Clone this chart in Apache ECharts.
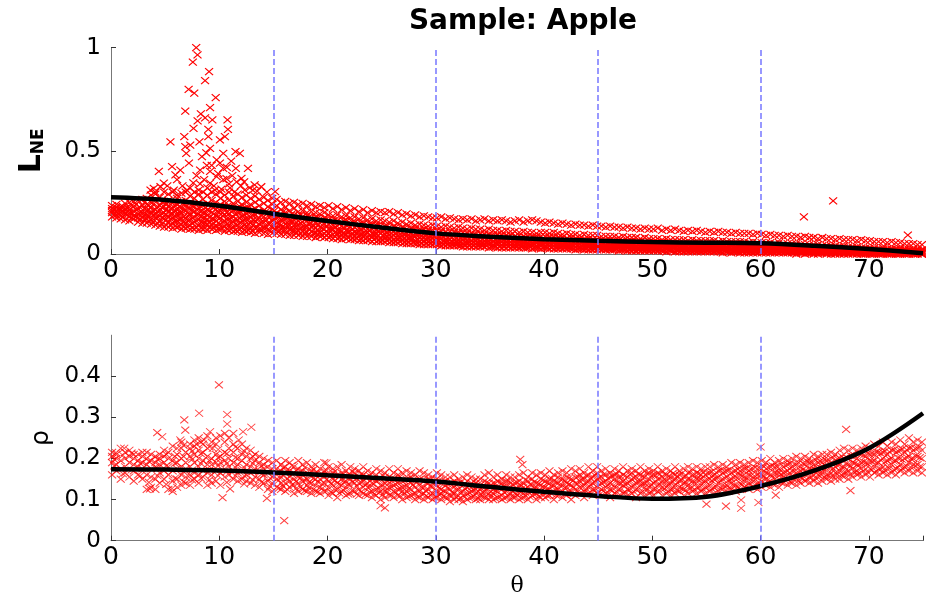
<!DOCTYPE html>
<html>
<head>
<meta charset="utf-8">
<script src="https://cdn.jsdelivr.net/npm/echarts@6/dist/echarts.min.js"></script>
<style>html,body{margin:0;padding:0;background:#fff;}#c{width:926px;height:599px;}</style>
</head>
<body>
<div id="c"></div>
<script>
const titleText = 'Sample: Apple';
const xTicks = [0, 10, 20, 30, 40, 50, 60, 70];
const dividers = [15, 30, 45, 60];
const fitTheta = [0, 5, 10, 15, 20, 25, 30, 35, 40, 45, 50, 55, 60, 65, 70, 75];
const lneFit = [0.275, 0.262, 0.234, 0.195, 0.160, 0.128, 0.100, 0.084, 0.072, 0.064, 0.058, 0.055, 0.052, 0.040, 0.024, 0.004];
const rhoFit = [0.174, 0.173, 0.171, 0.166, 0.159, 0.152, 0.144, 0.131, 0.119, 0.109, 0.102, 0.107, 0.133, 0.171, 0.225, 0.310];

// L_NE samples: each row = [theta, value, value, ...]
const lneRows = [
[0.1,.18,.20,.21,.22,.235],[0.5,.175,.19,.205,.225,.24],[0.9,.17,.185,.20,.215,.23],[1.3,.165,.195,.21,.22,.245],
[1.7,.16,.18,.20,.215,.25],[2.1,.17,.185,.205,.23,.255],[2.5,.155,.175,.195,.22,.26],[2.9,.15,.18,.20,.235,.265],
[3.3,.15,.17,.19,.21,.24,.27],[3.7,.145,.165,.20,.225,.25,.285],[4.1,.14,.175,.195,.215,.26,.29],[4.5,.135,.16,.185,.21,.235,.275],
[4.9,.13,.17,.20,.23,.255,.30],[5.3,.13,.155,.18,.205,.23,.26,.29],[5.7,.125,.15,.175,.195,.22,.25,.30],[6.1,.13,.16,.19,.215,.24,.27,.285],
[6.5,.12,.145,.17,.20,.225,.255,.295],[6.9,.125,.15,.175,.21,.235,.26,.30],[7.3,.12,.14,.165,.19,.22,.245,.28],[7.7,.12,.155,.18,.205,.23,.27,.30],
[8.1,.115,.14,.17,.195,.225,.25,.29],[8.5,.12,.15,.175,.20,.235,.265,.30],[8.9,.115,.145,.165,.19,.215,.245,.285],[9.3,.12,.14,.17,.20,.23,.26,.30],
[9.7,.115,.135,.16,.185,.215,.25,.29],[10.1,.12,.145,.175,.21,.24,.27,.30],[10.5,.11,.135,.16,.19,.22,.255,.285],[10.9,.115,.14,.17,.195,.23,.26,.30],
[11.3,.11,.13,.155,.18,.21,.245,.28],[11.7,.11,.14,.165,.20,.225,.255,.29],[12.1,.105,.13,.16,.185,.215,.24,.275],[12.5,.11,.135,.17,.195,.22,.25,.285],
[12.9,.105,.125,.15,.18,.21,.24,.27],[13.3,.10,.13,.16,.19,.22,.25,.28],[13.7,.105,.12,.145,.175,.205,.235,.265],[14.1,.10,.125,.155,.18,.21,.245,.275],
[14.5,.095,.12,.15,.185,.20,.23,.26],[14.9,.10,.13,.16,.19,.215,.24,.27],
[15.3,.10,.125,.15,.175,.20,.235,.265],[15.7,.095,.12,.14,.165,.19,.215,.25],[16.1,.095,.115,.145,.17,.20,.225,.255],[16.5,.09,.12,.14,.16,.185,.21,.245],
[16.9,.09,.11,.135,.165,.19,.22,.25],[17.3,.09,.115,.14,.16,.185,.205,.24],[17.7,.085,.11,.13,.155,.18,.21,.245],[18.1,.085,.105,.135,.16,.185,.20,.235],
[18.5,.085,.11,.13,.15,.175,.205,.24],[18.9,.08,.10,.125,.155,.18,.20,.23],[19.3,.085,.105,.13,.15,.17,.195,.235],[19.7,.08,.10,.12,.145,.175,.20,.225],
[20.1,.08,.10,.12,.145,.165,.19,.235],[20.5,.075,.095,.12,.14,.16,.185,.22],[20.9,.075,.10,.115,.135,.16,.19,.23],[21.3,.07,.09,.11,.135,.155,.18,.215],
[21.7,.075,.095,.115,.14,.165,.185,.225],[22.1,.07,.09,.11,.13,.15,.175,.21],[22.5,.07,.085,.105,.13,.155,.18,.22],[22.9,.065,.09,.11,.125,.145,.17,.205],
[23.3,.065,.085,.10,.125,.15,.175,.215],[23.7,.065,.08,.105,.12,.14,.165,.20],[24.1,.06,.085,.10,.12,.145,.17,.21],[24.5,.06,.08,.095,.115,.14,.16,.20],
[24.9,.06,.075,.10,.12,.135,.165,.205],[25.3,.06,.08,.095,.115,.135,.16,.20],[25.7,.055,.075,.09,.11,.13,.155,.205],[26.1,.055,.07,.09,.11,.135,.16,.195],
[26.5,.055,.075,.085,.105,.125,.15,.20],[26.9,.05,.07,.09,.105,.13,.155,.19],[27.3,.05,.065,.085,.10,.12,.145,.195],[27.7,.05,.07,.08,.10,.125,.15,.185],
[28.1,.05,.065,.085,.10,.12,.14,.19],[28.5,.045,.06,.08,.095,.115,.145,.18],[28.9,.045,.065,.08,.10,.12,.14,.185],[29.3,.045,.06,.075,.095,.115,.135,.18],
[29.7,.045,.06,.08,.09,.11,.14,.175],[30.1,.045,.06,.075,.095,.115,.135,.175],[30.5,.04,.055,.075,.09,.11,.13,.18],[30.9,.04,.06,.07,.09,.105,.135,.17],
[31.3,.04,.055,.07,.085,.11,.13,.175],[31.7,.04,.05,.07,.09,.105,.125,.17],[32.1,.04,.055,.065,.085,.10,.13,.165],[32.5,.035,.05,.07,.085,.105,.125,.17],
[32.9,.035,.055,.065,.08,.10,.12,.165],[33.3,.035,.05,.065,.085,.10,.125,.17],[33.7,.035,.05,.065,.08,.095,.12,.16],[34.1,.035,.045,.06,.08,.10,.12,.165],
[34.5,.035,.05,.065,.08,.095,.115,.17],[34.9,.03,.05,.06,.075,.095,.12,.16],[35.3,.035,.045,.06,.08,.09,.115,.165],[35.7,.03,.05,.06,.075,.095,.115,.16],
[36.1,.03,.045,.06,.075,.09,.11,.165],[36.5,.03,.045,.055,.07,.09,.115,.16],[36.9,.03,.045,.06,.075,.09,.11,.155],[37.3,.03,.04,.055,.07,.085,.11,.16],
[37.7,.03,.045,.06,.07,.09,.105,.165],[38.1,.03,.04,.055,.07,.085,.11,.155],[38.5,.03,.045,.055,.07,.085,.105,.16],[38.9,.025,.04,.055,.065,.085,.105,.165],
[39.3,.03,.04,.055,.07,.08,.10,.16],[39.7,.025,.04,.05,.065,.085,.105,.155],[40.1,.03,.04,.055,.07,.085,.105,.15],[40.5,.025,.04,.05,.065,.08,.10,.155],
[40.9,.025,.04,.055,.065,.085,.105,.15],[41.3,.025,.035,.05,.065,.08,.10,.145],[41.7,.025,.04,.05,.06,.08,.095,.15],[42.1,.025,.035,.05,.065,.075,.10,.145],
[42.5,.025,.035,.045,.06,.08,.095,.14],[42.9,.02,.035,.05,.06,.075,.095,.145],[43.3,.025,.035,.045,.06,.075,.09,.14],[43.7,.02,.03,.045,.06,.07,.095,.14],
[44.1,.02,.035,.045,.055,.075,.09,.135],[44.5,.02,.03,.045,.06,.07,.09,.14],[44.9,.02,.035,.045,.055,.07,.09,.135],[45.3,.02,.03,.04,.055,.07,.085,.135],
[45.7,.02,.03,.045,.055,.065,.085,.13],[46.1,.02,.03,.04,.055,.07,.085,.135],[46.5,.02,.03,.04,.05,.065,.085,.13],[46.9,.015,.03,.04,.055,.065,.08,.13],
[47.3,.02,.025,.04,.05,.065,.085,.125],[47.7,.015,.03,.04,.05,.06,.08,.13],[48.1,.015,.025,.04,.05,.065,.08,.125],[48.5,.015,.03,.035,.05,.06,.08,.125],
[48.9,.015,.025,.04,.05,.06,.075,.12],[49.3,.015,.025,.035,.045,.06,.08,.125],[49.7,.015,.025,.035,.05,.06,.075,.12],[50.1,.015,.025,.035,.045,.06,.075,.12],
[50.5,.015,.025,.035,.05,.055,.075,.125],[50.9,.015,.02,.035,.045,.06,.07,.115],[51.3,.01,.025,.035,.045,.055,.075,.12],[51.7,.015,.02,.03,.045,.055,.07,.115],
[52.1,.01,.025,.035,.045,.055,.07,.12],[52.5,.01,.02,.03,.045,.055,.07,.115],[52.9,.01,.025,.035,.04,.055,.07,.11],[53.3,.01,.02,.03,.045,.05,.065,.115],
[53.7,.01,.02,.035,.04,.055,.07,.11],[54.1,.01,.02,.03,.04,.055,.065,.115],[54.5,.01,.02,.03,.045,.05,.065,.11],[54.9,.01,.02,.03,.04,.05,.065,.105],
[55.3,.01,.02,.03,.04,.055,.065,.11],[55.7,.01,.015,.03,.04,.05,.065,.105],[56.1,.01,.02,.025,.04,.05,.06,.11],[56.5,.005,.02,.03,.04,.05,.065,.105],
[56.9,.01,.015,.03,.035,.05,.06,.105],[57.3,.005,.02,.025,.04,.05,.06,.10],[57.7,.01,.015,.025,.035,.05,.06,.105],[58.1,.005,.02,.03,.04,.045,.06,.10],
[58.5,.005,.015,.025,.035,.05,.06,.10],[58.9,.005,.015,.025,.035,.045,.055,.10],[59.3,.005,.015,.025,.035,.045,.06,.095],[59.7,.005,.015,.025,.035,.045,.055,.10],
[60.1,.005,.015,.025,.035,.045,.055,.095],[60.5,.005,.015,.025,.03,.045,.055,.09],[60.9,.005,.01,.02,.035,.04,.055,.095],[61.3,.005,.015,.02,.03,.045,.05,.09],
[61.7,.005,.01,.025,.03,.04,.055,.09],[62.1,.005,.015,.02,.03,.04,.05,.085],[62.5,.005,.01,.02,.03,.04,.05,.09],[62.9,.005,.01,.02,.025,.035,.05,.085],
[63.3,.0,.01,.02,.03,.04,.05,.085],[63.7,.005,.01,.015,.025,.035,.045,.08],[64.1,.0,.01,.02,.03,.035,.045,.085],[64.5,.005,.01,.015,.025,.035,.045,.08],
[64.9,.0,.01,.02,.025,.035,.045,.08],[65.3,.0,.01,.015,.025,.03,.045,.075],[65.7,.005,.01,.015,.02,.03,.04,.08],[66.1,.0,.005,.015,.025,.03,.04,.075],
[66.5,.0,.01,.015,.02,.03,.04,.075],[66.9,.0,.005,.015,.02,.03,.04,.07],[67.3,.0,.01,.015,.02,.025,.035,.075],[67.7,.0,.005,.01,.02,.03,.04,.07],
[68.1,.0,.005,.015,.02,.025,.035,.07],[68.5,.0,.005,.01,.02,.025,.035,.07],[68.9,.0,.005,.01,.015,.025,.035,.065],[69.3,.0,.005,.01,.015,.025,.03,.07],
[69.7,.0,.005,.01,.015,.02,.03,.065],[70.1,.0,.005,.01,.015,.02,.03,.065],[70.5,.0,.005,.01,.015,.02,.03,.06],[70.9,.0,.005,.01,.015,.02,.025,.06],
[71.3,.0,.005,.01,.015,.02,.03,.06],[71.7,.0,.005,.01,.015,.02,.025,.055],[72.1,.0,.005,.01,.01,.02,.025,.06],[72.5,.0,.005,.01,.015,.02,.025,.055],
[72.9,.0,.005,.005,.01,.015,.025,.055],[73.3,.0,.005,.01,.015,.02,.025,.05],[73.7,.0,.005,.01,.01,.015,.02,.05],[74.1,.0,.005,.005,.01,.015,.025,.05],
[74.5,.0,.005,.01,.01,.015,.02,.045],[74.9,.0,.0,.005,.01,.015,.02,.045]
];
// L_NE samples in the dense core, between the rows above
const lneCoreRows = [
[0.3,.19,.215],[0.7,.195,.22],[1.1,.18,.21,.23],[1.5,.19,.225],[1.9,.175,.20,.235],[2.3,.18,.215,.24],[2.7,.17,.20,.225],
[3.1,.165,.19,.22,.25],[3.5,.16,.185,.215,.235],[3.9,.155,.19,.21,.24],[4.3,.15,.18,.205,.23],[4.7,.145,.175,.195,.225,.25],
[5.1,.14,.165,.19,.215,.245],[5.5,.14,.17,.195,.22,.24],[5.9,.135,.16,.185,.21,.235],[6.3,.135,.165,.19,.205,.23],
[6.7,.13,.155,.18,.215,.24],[7.1,.13,.16,.185,.20,.225],[7.5,.125,.15,.175,.21,.235],[7.9,.13,.16,.19,.215,.24],
[8.3,.125,.155,.18,.205,.23],[8.7,.125,.15,.175,.20,.225],[9.1,.13,.155,.18,.21,.24],[9.5,.125,.15,.17,.195,.225],
[9.9,.12,.15,.18,.205,.23],[10.3,.125,.155,.185,.20,.225],[10.7,.12,.145,.17,.20,.23],[11.1,.12,.15,.175,.205,.225],
[11.5,.115,.145,.17,.195,.22],[11.9,.12,.15,.175,.20,.23],[12.3,.115,.14,.165,.19,.22],[12.7,.115,.145,.17,.20,.225],
[13.1,.11,.14,.165,.19,.215],[13.5,.13,.165,.20],[13.9,.12,.155,.19],[14.3,.125,.16,.205],[14.7,.115,.15,.185],
[15.1,.12,.14,.175,.21],[15.5,.11,.145,.18],[15.9,.115,.135,.17,.205],[16.3,.105,.14,.175],[16.7,.11,.13,.16,.195],
[17.1,.105,.135,.17],[17.5,.10,.125,.15,.19],[17.9,.10,.13,.165],[18.3,.095,.12,.145,.18],[18.7,.10,.135,.165],
[19.1,.095,.115,.14,.175],[19.5,.09,.125,.16],[19.9,.09,.11,.135,.17],[20.3,.085,.12,.15],[20.7,.085,.105,.13,.165],
[21.1,.08,.115,.145],[21.5,.085,.10,.125,.16],[21.9,.08,.11,.14],[22.3,.075,.10,.12,.155],[22.7,.075,.105,.135],
[23.1,.07,.095,.12,.15],[23.5,.075,.10,.13],[23.9,.07,.09,.115,.145],[24.3,.07,.095,.125],[24.7,.065,.09,.11,.14],
[25.1,.065,.09,.12],[25.5,.065,.085,.105,.135],[25.9,.06,.085,.115],[26.3,.06,.08,.10,.13],[26.7,.06,.08,.11],
[27.1,.055,.075,.095,.125],[27.5,.055,.08,.105],[27.9,.055,.075,.09,.12],[28.3,.05,.07,.10],[28.7,.05,.07,.085,.115],
[29.1,.05,.07,.095],[29.5,.05,.065,.085,.11],[29.9,.05,.065,.09],[30.3,.045,.065,.08,.105],[30.7,.045,.06,.085],
[31.1,.045,.06,.08,.10],[31.5,.045,.06,.08],[31.9,.045,.055,.075,.10],[32.3,.04,.06,.08],[32.7,.04,.055,.075,.095],
[33.1,.04,.055,.075],[33.5,.04,.055,.07,.095],[33.9,.04,.055,.075],[34.3,.04,.05,.07,.09],[34.7,.04,.055,.07],
[35.1,.035,.05,.07,.09],[35.5,.035,.055,.07],[35.9,.035,.05,.065,.085],[36.3,.035,.05,.07],[36.7,.035,.05,.065,.085],
[37.1,.035,.05,.065],[37.5,.035,.05,.065,.08],[37.9,.035,.045,.065],[38.3,.03,.05,.06,.08],[38.7,.035,.045,.065],
[39.1,.03,.045,.06,.08],[39.5,.03,.05,.065],[39.9,.03,.045,.06,.075],[40.3,.03,.045,.06],[40.7,.03,.045,.06,.075],
[41.1,.03,.045,.06],[41.5,.03,.04,.055,.075],[41.9,.03,.045,.06],[42.3,.03,.04,.055,.07],[42.7,.025,.04,.055],
[43.1,.025,.04,.055,.07],[43.5,.025,.04,.055],[43.9,.025,.04,.05,.07],[44.3,.025,.04,.055],[44.7,.025,.035,.05,.065],
[45.1,.025,.04,.05],[45.5,.025,.035,.05,.065],[45.9,.025,.035,.05],[46.3,.02,.035,.05,.065],[46.7,.025,.035,.045],
[47.1,.02,.035,.045,.06],[47.5,.02,.035,.05],[47.9,.02,.035,.045,.06],[48.3,.02,.03,.045],[48.7,.02,.03,.045,.06],
[49.1,.02,.035,.045],[49.5,.02,.03,.04,.055],[49.9,.02,.03,.045],[50.3,.02,.03,.04,.055],[50.7,.02,.03,.045],
[51.1,.015,.03,.04,.055],[51.5,.02,.03,.04],[51.9,.015,.03,.04,.05],[52.3,.015,.025,.04],[52.7,.015,.025,.04,.05],
[53.1,.015,.03,.04],[53.5,.015,.025,.035,.05],[53.9,.015,.025,.04],[54.3,.015,.025,.035,.05],[54.7,.015,.025,.035],
[55.1,.015,.025,.035,.045],[55.5,.015,.025,.035],[55.9,.015,.02,.035,.045],[56.3,.01,.025,.035],[56.7,.015,.02,.03,.045],
[57.1,.01,.025,.035],[57.5,.01,.02,.03,.045],[57.9,.01,.02,.035],[58.3,.01,.02,.03,.04],[58.7,.01,.02,.03],
[59.1,.01,.02,.03,.04],[59.5,.01,.02,.03],[59.9,.01,.02,.03,.04],[60.3,.01,.02,.03],[60.7,.01,.02,.03,.04],
[61.1,.01,.02,.03],[61.5,.01,.015,.025,.04],[61.9,.01,.02,.03],[62.3,.01,.015,.025,.035],[62.7,.01,.015,.025],
[63.1,.005,.015,.025,.035],[63.5,.01,.015,.025],[63.9,.005,.015,.025,.035],[64.3,.005,.015,.025],[64.7,.005,.015,.02,.03],
[65.1,.005,.015,.025],[65.5,.005,.01,.02,.03],[65.9,.005,.01,.02],[66.3,.005,.01,.02,.03],[66.7,.005,.01,.02],
[67.1,.005,.01,.02,.03],[67.5,.005,.01,.02],[67.9,.005,.01,.015,.025],[68.3,.005,.01,.02],[68.7,.005,.01,.015,.025],
[69.1,.005,.01,.015],[69.5,.0,.01,.015,.025],[69.9,.005,.01,.015],[70.3,.0,.005,.015,.02],[70.7,.005,.01,.015],
[71.1,.0,.005,.015,.02],[71.5,.005,.01,.015],[71.9,.0,.005,.01,.02],[72.3,.005,.01,.015],[72.7,.0,.005,.01,.02],
[73.1,.005,.01,.015],[73.5,.0,.005,.01,.015],[73.9,.005,.01,.015],[74.3,.0,.005,.01,.015],[74.7,.005,.01,.015]
];
// L_NE scattered points above the band: [theta, value]
const lneSpread = [
[7.87,1.0],[7.99,.965],[7.56,.93],[9.06,.884],[8.69,.84],[7.17,.798],[7.69,.78],[9.67,.758],[9.15,.71],[6.86,.693],
[8.3,.679],[10.76,.65],[9.36,.65],[8.69,.66],[8.0,.645],[7.62,.609],[8.99,.604],[10.8,.604],[5.49,.544],[8.17,.544],
[8.99,.569],[10.06,.553],[10.52,.569],[6.77,.569],[7.32,.528],[6.86,.52],[6.95,.488],[9.15,.512],[10.37,.488],[11.5,.496],
[11.9,.488],[8.4,.472],[8.85,.43],[9.76,.456],[10.06,.44],[4.42,.40],[5.64,.423],[6.4,.407],[5.95,.383],[8.23,.407],
[9.15,.40],[10.37,.415],[11.53,.415],[12.65,.415],[9.76,.375],[10.67,.365],[12.05,.367],[4.88,.343],[4.57,.326],[8.23,.34],
[9.15,.343],[10.37,.36],[12.35,.31],[13.27,.335],[13.88,.326],[15.16,.302],[3.95,.318],[3.65,.31],[7.3,.32],[7.0,.31],
[11.0,.32],[11.6,.35],[5.2,.33],[6.1,.36],[7.9,.38],[8.6,.36],[9.5,.33],[10.9,.34],[12.3,.35],[13.1,.31],
[9.9,.39],[11.2,.38],[5.8,.31],[14.4,.30],[8.1,.31],[9.6,.31],[12.8,.32],[4.1,.30],[6.6,.33],[7.6,.345],
[8.9,.32],[10.2,.315],[11.4,.30],[12.0,.33],[13.5,.305],[9.3,.43],[10.7,.42],[7.2,.44],[8.8,.49],[11.1,.45],
[64.0,.18],[66.7,.257],[73.6,.092]
];

// rho samples: each row = [theta, value, value, ...]
const rhoRows = [
[0.1,.16,.19,.205,.215],[0.5,.17,.185,.20,.21],[0.9,.15,.175,.195,.225],[1.3,.165,.18,.20,.215],[1.7,.155,.19,.205,.22],
[2.1,.145,.17,.185,.20,.21],[2.5,.16,.18,.195,.21],[2.9,.15,.175,.19,.205,.215],[3.3,.125,.16,.185,.20,.215],[3.7,.13,.155,.175,.195,.21],
[4.1,.125,.15,.18,.19,.205],[4.5,.14,.165,.185,.20,.21],[4.9,.15,.17,.19,.205,.22],[5.3,.125,.16,.18,.20,.215],[5.7,.12,.145,.17,.195,.23],
[6.1,.13,.15,.175,.19,.21,.225],[6.5,.135,.16,.18,.20,.225,.24],[6.9,.14,.155,.175,.19,.215],[7.3,.135,.16,.18,.205,.225,.235],[7.7,.15,.165,.19,.21,.23,.245],
[8.1,.14,.16,.18,.20,.22,.25],[8.5,.155,.17,.195,.215,.235],[8.9,.135,.165,.185,.205,.225,.255],[9.3,.14,.16,.185,.20,.24],[9.7,.145,.17,.19,.21,.235,.25],
[10.1,.135,.165,.19,.205,.255],[10.5,.155,.175,.195,.215,.24],[10.9,.16,.18,.20,.225,.25],[11.3,.15,.17,.19,.215,.235],[11.7,.145,.165,.185,.20,.225],
[12.1,.15,.17,.195,.21,.235],[12.5,.145,.16,.185,.205,.225],[12.9,.14,.165,.18,.20,.22],[13.3,.135,.155,.175,.195,.21],[13.7,.13,.15,.17,.19,.205],
[14.1,.14,.16,.175,.185,.20],[14.5,.125,.145,.165,.18,.195],[14.9,.12,.14,.155,.175,.19],[15.3,.13,.15,.16,.175,.195],[15.7,.125,.14,.155,.17,.185],
[16.1,.12,.14,.165,.18,.195],[16.5,.13,.145,.155,.17,.19],[16.9,.115,.135,.15,.165,.18],[17.3,.12,.14,.155,.175,.195],[17.7,.125,.145,.16,.17,.185],
[18.1,.12,.135,.15,.165,.19],[18.5,.115,.14,.155,.17,.18],[18.9,.12,.135,.15,.165,.185],[19.3,.115,.13,.15,.16,.175],[19.7,.12,.14,.155,.17,.19],
[20.1,.11,.13,.145,.16,.18],[20.5,.115,.135,.15,.165,.175],[20.9,.105,.125,.14,.16,.18],[21.3,.12,.135,.15,.165,.185],[21.7,.11,.13,.145,.155,.17],
[22.1,.115,.135,.15,.16,.18],[22.5,.12,.14,.155,.165,.175],[22.9,.11,.125,.14,.155,.17],[23.3,.115,.13,.145,.16,.18],[23.7,.11,.13,.14,.155,.17],
[24.1,.105,.12,.14,.15,.165],[24.5,.11,.125,.145,.16,.175],[24.9,.10,.12,.135,.15,.17],[25.3,.105,.12,.14,.155,.165],[25.7,.11,.13,.14,.155,.175],
[26.1,.105,.12,.135,.15,.165],[26.5,.11,.125,.14,.16,.175],[26.9,.10,.12,.13,.145,.165],[27.3,.105,.12,.135,.15,.17],[27.7,.11,.125,.14,.155,.165],
[28.1,.10,.115,.13,.145,.16],[28.5,.105,.12,.135,.15,.17],[28.9,.10,.115,.13,.145,.165],[29.3,.105,.125,.14,.15,.16],[29.7,.10,.115,.13,.14,.155],
[30.1,.105,.12,.135,.15,.165],[30.5,.10,.115,.125,.14,.16],[30.9,.105,.12,.135,.145,.155],[31.3,.095,.11,.125,.14,.155],[31.7,.10,.115,.13,.145,.16],
[32.1,.10,.11,.125,.14,.15],[32.5,.095,.11,.12,.135,.155],[32.9,.10,.115,.13,.145,.16],[33.3,.105,.12,.13,.14,.155],[33.7,.10,.115,.125,.14,.15],
[34.1,.10,.11,.125,.135,.15],[34.5,.105,.12,.13,.145,.16],[34.9,.10,.115,.13,.14,.165],[35.3,.10,.115,.125,.14,.155],[35.7,.105,.12,.13,.145,.16],
[36.1,.10,.11,.125,.14,.15],[36.5,.105,.12,.135,.145,.16],[36.9,.10,.115,.13,.14,.155],[37.3,.105,.115,.125,.14,.155],[37.7,.10,.12,.135,.145,.16],
[38.1,.105,.115,.13,.14,.165],[38.5,.10,.12,.13,.145,.155],[38.9,.11,.12,.135,.15,.165],[39.3,.10,.115,.13,.14,.16],[39.7,.105,.12,.135,.15,.165],
[40.1,.105,.12,.13,.145,.16],[40.5,.11,.125,.14,.15,.17],[40.9,.10,.12,.135,.145,.16],[41.3,.11,.125,.14,.155,.165],[41.7,.105,.12,.135,.15,.17],
[42.1,.11,.13,.14,.155,.165],[42.5,.10,.12,.135,.15,.175],[42.9,.11,.125,.14,.155,.17],[43.3,.115,.13,.145,.16,.175],[43.7,.105,.12,.135,.15,.165],
[44.1,.115,.13,.145,.16,.18],[44.5,.11,.125,.14,.155,.17],[44.9,.115,.13,.15,.165,.18],[45.3,.11,.125,.14,.155,.17],[45.7,.115,.13,.145,.16,.175],
[46.1,.105,.125,.14,.155,.165],[46.5,.115,.13,.15,.16,.175],[46.9,.11,.125,.14,.155,.17],[47.3,.115,.135,.145,.16,.18],[47.7,.11,.125,.14,.155,.17],
[48.1,.115,.13,.15,.165,.175],[48.5,.105,.125,.14,.155,.17],[48.9,.115,.135,.145,.16,.18],[49.3,.11,.13,.14,.155,.17],[49.7,.115,.13,.15,.165,.175],
[50.1,.11,.125,.14,.16,.17],[50.5,.12,.135,.15,.165,.18],[50.9,.11,.13,.145,.155,.17],[51.3,.115,.13,.145,.16,.175],[51.7,.11,.125,.14,.155,.17],
[52.1,.115,.135,.15,.16,.18],[52.5,.12,.13,.145,.16,.17],[52.9,.11,.125,.14,.155,.175],[53.3,.115,.135,.15,.165,.18],[53.7,.12,.13,.145,.16,.175],
[54.1,.115,.13,.15,.165,.18],[54.5,.12,.135,.15,.16,.175],[54.9,.115,.13,.145,.16,.18],[55.3,.12,.135,.15,.165,.18],[55.7,.115,.13,.15,.16,.185],
[56.1,.12,.14,.155,.17,.18],[56.5,.125,.135,.15,.165,.185],[56.9,.12,.135,.155,.17,.18],[57.3,.125,.14,.15,.165,.19],[57.7,.12,.135,.155,.17,.185],
[58.1,.125,.14,.16,.17,.19],[58.5,.13,.145,.155,.175,.185],[58.9,.125,.14,.16,.17,.19],[59.3,.13,.145,.155,.175,.195],[59.7,.125,.14,.16,.175,.19],
[60.1,.13,.145,.16,.175,.195],[60.5,.135,.15,.165,.175,.19],[60.9,.13,.145,.16,.18,.20],[61.3,.135,.15,.165,.18,.19],[61.7,.13,.15,.165,.175,.195],
[62.1,.14,.155,.165,.18,.20],[62.5,.135,.15,.17,.185,.195],[62.9,.14,.155,.17,.18,.20],[63.3,.135,.155,.165,.185,.205],[63.7,.14,.155,.17,.18,.20],
[64.1,.145,.16,.17,.185,.205],[64.5,.14,.155,.175,.19,.20],[64.9,.145,.16,.175,.185,.21],[65.3,.14,.16,.17,.19,.205],[65.7,.145,.165,.175,.19,.21],
[66.1,.15,.16,.18,.195,.21],[66.5,.145,.165,.18,.19,.215],[66.9,.15,.165,.18,.195,.21],[67.3,.15,.17,.185,.20,.22],[67.7,.155,.165,.18,.20,.225],
[68.1,.15,.17,.185,.20,.22],[68.5,.155,.175,.19,.205,.225],[68.9,.16,.17,.185,.20,.22],[69.3,.155,.175,.19,.21,.225],[69.7,.16,.175,.19,.205,.23],
[70.1,.155,.175,.195,.21,.225],[70.5,.165,.18,.195,.21,.235],[70.9,.16,.175,.19,.215,.23],[71.3,.165,.18,.20,.215,.24],[71.7,.16,.18,.195,.21,.23],
[72.1,.165,.185,.20,.22,.24],[72.5,.16,.175,.195,.215,.235],[72.9,.17,.185,.20,.22,.245],[73.3,.165,.18,.20,.215,.235],[73.7,.17,.19,.205,.225,.25],
[74.1,.165,.185,.20,.22,.24],[74.5,.17,.185,.205,.225,.245],[74.9,.165,.18,.20,.22,.24]
];
// rho samples in the core, between the rows above
const rhoCoreRows = [
[0.3,.182,.198],[1.1,.163,.208],[1.9,.172,.213],[2.7,.158,.188],[3.5,.142,.193],[4.3,.158,.176,.198],[5.1,.137,.182,.21],
[5.9,.152,.188,.205],[6.7,.143,.168,.205,.232],[7.5,.148,.172,.198,.218],[8.3,.152,.188,.212,.24],[9.1,.148,.172,.195,.228],
[9.9,.158,.182,.202,.222],[10.7,.142,.168,.188,.212],[11.5,.158,.178,.202,.228],[12.3,.138,.158,.178,.218],[13.1,.148,.168,.188,.205],
[13.9,.142,.162,.182],[14.7,.132,.152,.172],
[15.5,.128,.147,.168],[15.9,.132,.158,.177],[16.3,.124,.151,.172],[16.7,.136,.162,.183],[17.1,.127,.144,.171],[17.5,.131,.153,.168],
[17.9,.122,.147,.178],[18.3,.128,.142,.161],[18.7,.125,.152,.173],[19.1,.119,.143,.166],[19.5,.127,.138,.162],[19.9,.121,.149,.171],
[20.3,.118,.139,.158],[20.7,.124,.146,.169],[21.1,.116,.138,.157],[21.5,.122,.142,.163],[21.9,.114,.137,.161],[22.3,.121,.143,.168],
[22.7,.113,.133,.152],[23.1,.119,.141,.162],[23.5,.112,.136,.154],[23.9,.118,.131,.158],[24.3,.113,.138,.152],[24.7,.116,.128,.149],
[25.1,.112,.134,.158],[25.5,.118,.127,.147],[25.9,.111,.131,.152],[26.3,.116,.137,.149],[26.7,.109,.128,.156],[27.1,.114,.132,.146],
[27.5,.108,.127,.151],[27.9,.112,.136,.148],[28.3,.107,.124,.143],[28.7,.113,.129,.152],[29.1,.109,.122,.141],[29.5,.111,.133,.148],
[29.9,.106,.124,.139],[30.3,.112,.128,.147],[30.7,.108,.121,.143],[31.1,.104,.127,.138],[31.5,.109,.118,.141],[31.9,.106,.124,.136],
[32.3,.103,.119,.142],[32.7,.107,.126,.139],[33.1,.104,.117,.133],[33.5,.108,.123,.144],[33.9,.103,.121,.137],[34.3,.109,.118,.131],
[34.7,.105,.124,.142],[35.1,.108,.119,.136],[35.5,.103,.122,.139],[35.9,.107,.128,.141],[36.3,.104,.118,.133],[36.7,.109,.124,.146],
[37.1,.106,.121,.138],[37.5,.111,.127,.142],[37.9,.104,.119,.134],[38.3,.109,.126,.148],[38.7,.107,.122,.137],[39.1,.112,.128,.143],
[39.5,.108,.124,.139],[39.9,.113,.131,.147],[40.3,.109,.126,.141],[40.7,.114,.132,.152],[41.1,.111,.128,.144],[41.5,.116,.133,.149],
[41.9,.113,.129,.146],[42.3,.118,.137,.152],[42.7,.114,.131,.147],[43.1,.119,.138,.156],[43.5,.116,.134,.151],[43.9,.121,.139,.158],
[44.3,.117,.136,.153],[44.7,.122,.141,.159],[45.1,.118,.137,.154],[45.5,.121,.142,.161],[45.9,.117,.136,.152],[46.3,.122,.138,.157],
[46.7,.119,.141,.162],[47.1,.124,.139,.156],[47.5,.118,.137,.158],[47.9,.123,.142,.161],[48.3,.119,.138,.154],[48.7,.124,.143,.162],
[49.1,.12,.139,.157],[49.5,.123,.142,.163],[49.9,.118,.137,.158],[50.3,.124,.143,.159],[50.7,.121,.138,.162],[51.1,.126,.144,.161],
[51.5,.12,.139,.157],[51.9,.125,.143,.164],[52.3,.122,.141,.158],[52.7,.127,.146,.163],[53.1,.123,.142,.159],[53.5,.128,.147,.166],
[53.9,.124,.143,.161],[54.3,.129,.148,.164],[54.7,.125,.144,.167],[55.1,.13,.149,.165],[55.5,.126,.146,.168],[55.9,.131,.151,.166],
[56.3,.127,.147,.171],[56.7,.133,.152,.168],[57.1,.129,.148,.172],[57.5,.134,.154,.169],[57.9,.131,.152,.174],[58.3,.136,.157,.172],
[58.7,.133,.153,.176],[59.1,.138,.158,.174],[59.5,.135,.156,.178],[59.9,.14,.159,.176],[60.3,.138,.157,.181],[60.7,.142,.163,.178],
[61.1,.139,.158,.182],[61.5,.144,.164,.181],[61.9,.141,.162,.186],[62.3,.146,.167,.183],[62.7,.143,.164,.188],[63.1,.148,.169,.186],
[63.5,.146,.166,.19],[63.9,.151,.172,.188],[64.3,.149,.168,.193],[64.7,.154,.174,.191],[65.1,.152,.171,.196],[65.5,.157,.177,.193],
[65.9,.154,.174,.198],[66.3,.159,.181,.197],[66.7,.157,.176,.202],[67.1,.162,.183,.199],[67.5,.159,.179,.205],[67.9,.165,.186,.203],
[68.3,.162,.182,.207],[68.7,.167,.188,.206],[69.1,.164,.184,.211],[69.5,.169,.191,.208],[69.9,.167,.187,.213],[70.3,.172,.193,.211],
[70.7,.169,.189,.216],[71.1,.174,.196,.213],[71.5,.171,.192,.218],[71.9,.176,.198,.216],[72.3,.173,.194,.221],[72.7,.178,.201,.218],
[73.1,.176,.197,.223],[73.5,.181,.203,.221],[73.9,.178,.199,.226],[74.3,.183,.206,.224],[74.7,.18,.202,.228]
];
// rho scattered points away from the band: [theta, value]
const rhoSpread = [
[9.97,.379],[8.14,.31],[10.73,.307],[6.77,.294],[10.73,.284],[6.86,.269],[4.27,.263],[4.73,.253],[9.15,.265],[12.96,.276],
[12.2,.265],[6.4,.245],[10.52,.261],[11.3,.261],[1.22,.225],[10.3,.105],[11.0,.126],[14.4,.103],[16.0,.049],[5.64,.127],
[3.6,.126],[0.48,.214],[25.3,.08],[24.9,.085],[37.8,.198],[38.0,.185],[55.0,.089],[56.8,.084],[58.2,.099],[58.2,.079],
[59.8,.093],[61.4,.111],[68.3,.122],[67.9,.271],[60.0,.228],[19.9,.189],[8.6,.245],[9.4,.225],[11.8,.245],[7.9,.235]
];

function flatten(rowSets, extra) {
  const out = [];
  rowSets.forEach(rows => rows.forEach(r => { for (let i = 1; i < r.length; i++) out.push([r[0], r[i]]); }));
  extra.forEach(p => out.push([p[0], p[1]]));
  return out;
}
const lneData = flatten([lneRows, lneCoreRows], lneSpread);
const rhoData = flatten([rhoRows, rhoCoreRows], rhoSpread);

const chart = echarts.init(document.getElementById('c'), null, {renderer: 'canvas'});
const FONT = 'DejaVu Sans';
const markerSym = 'path://M0,0L10,10M10,0L0,10';
function xAxisCfg(idx, withName) {
  const c = {
    type: 'value', gridIndex: idx, min: 0, max: 75, interval: 10,
    axisLine: {show: true, onZero: false, lineStyle: {color: '#777', width: 1}},
    axisTick: {show: true, inside: true, length: 5, lineStyle: {color: '#333'}},
    axisLabel: {fontFamily: FONT, fontSize: 25, color: '#000', margin: 4,
      formatter: v => (xTicks.indexOf(v) >= 0 ? String(v) : '')},
    splitLine: {show: false}
  };
  if (withName) {
    c.name = 'θ';
    c.nameLocation = 'middle';
    c.nameGap = 35;
    c.nameTextStyle = {fontFamily: 'DejaVu Serif', fontSize: 22, color: '#000'};
  }
  return c;
}
function scatterSeries(idx, data, op, bw) {
  return {
    type: 'scatter', xAxisIndex: idx, yAxisIndex: idx, data: data,
    symbol: markerSym, symbolSize: [8, 7], symbolKeepAspect: false,
    itemStyle: {color: 'transparent', borderColor: '#ff0000', borderWidth: bw, opacity: op},
    silent: true, progressive: 0, z: 2
  };
}
function fitSeries(idx, vals) {
  return {
    type: 'line', xAxisIndex: idx, yAxisIndex: idx,
    data: fitTheta.map((t, i) => [t, vals[i]]),
    smooth: 0.35, showSymbol: false, symbol: 'none',
    lineStyle: {color: '#000', width: 4.5}, silent: true, z: 3,
    markLine: {
      silent: true, symbol: ['none', 'none'], label: {show: false}, animation: false,
      lineStyle: {color: '#7777ff', width: 1.5, type: [6, 3]},
      data: dividers.map(v => ({xAxis: v}))
    }
  };
}

chart.setOption({
  animation: false,
  backgroundColor: '#fff',
  title: {
    text: titleText, left: 518, top: 3, textAlign: 'center',
    textStyle: {fontFamily: FONT, fontWeight: 'bold', fontSize: 28, color: '#000'}
  },
  grid: [
    {left: 111, top: 47.7, width: 820, height: 206.3},
    {left: 111, top: 335.2, width: 820, height: 205.5}
  ],
  xAxis: [xAxisCfg(0, false), xAxisCfg(1, true)],
  yAxis: [
    {
      type: 'value', gridIndex: 0, min: 0, max: 1, interval: 0.5,
      axisLine: {show: true, lineStyle: {color: '#777', width: 1}},
      axisTick: {show: true, inside: true, length: 5, lineStyle: {color: '#333'}},
      axisLabel: {fontFamily: FONT, fontSize: 23, color: '#000', margin: 10},
      splitLine: {show: false},
      name: '{a|L}{b|NE}', nameLocation: 'middle', nameRotate: 90, nameGap: 64,
      nameTextStyle: {rich: {
        a: {fontFamily: FONT, fontWeight: 'bold', fontSize: 30, color: '#000'},
        b: {fontFamily: FONT, fontWeight: 'bold', fontSize: 17, color: '#000', verticalAlign: 'bottom', padding: [10, 0, 0, 0]}
      }}
    },
    {
      type: 'value', gridIndex: 1, min: 0, max: 0.5, interval: 0.1,
      axisLine: {show: true, lineStyle: {color: '#777', width: 1}},
      axisTick: {show: true, inside: true, length: 5, lineStyle: {color: '#333'}},
      axisLabel: {fontFamily: FONT, fontSize: 23, color: '#000', margin: 10, showMaxLabel: false},
      splitLine: {show: false},
      name: 'ρ', nameLocation: 'middle', nameRotate: 90, nameGap: 56,
      nameTextStyle: {fontFamily: FONT, fontSize: 25, color: '#000'}
    }
  ],
  series: [
    scatterSeries(0, lneData, 1, 1.15),
    scatterSeries(1, rhoData, 0.75, 1),
    fitSeries(0, lneFit),
    fitSeries(1, rhoFit)
  ]
});
</script>
</body>
</html>
